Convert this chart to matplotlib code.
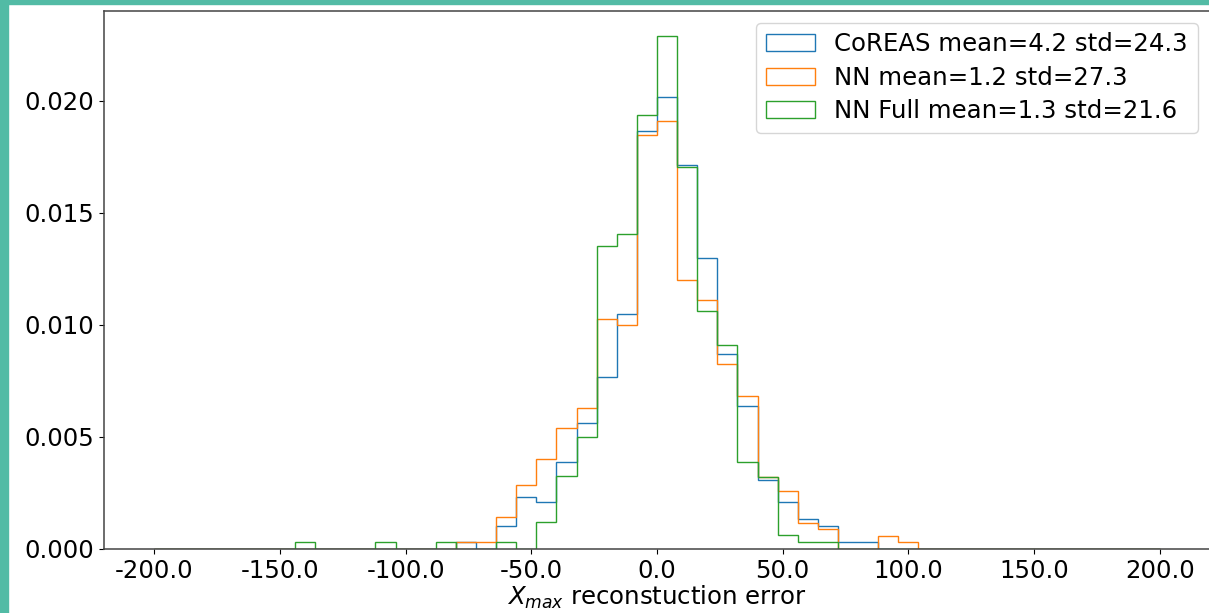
import numpy as np
import matplotlib
matplotlib.use("Agg")
import matplotlib.pyplot as plt
from matplotlib.patches import Rectangle
from matplotlib.ticker import FormatStrFormatter

# bin edges every 8 units, from -200 to 200
edges = np.arange(-200, 201, 8)
left_edges = edges[:-1]

# density per bin: {left edge: value}
coreas = {-80: 0.0003, -64: 0.00104, -56: 0.00232, -48: 0.00209, -40: 0.00386,
          -32: 0.00563, -24: 0.00766, -16: 0.01047, -8: 0.01863, 0: 0.02018,
          8: 0.01714, 16: 0.0130, 24: 0.0087, 32: 0.0064, 40: 0.0031,
          48: 0.00208, 56: 0.00134, 64: 0.00102, 72: 0.0003, 80: 0.0003}
nn = {-80: 0.0003, -72: 0.0003, -64: 0.00144, -56: 0.00286, -48: 0.00402,
      -40: 0.0054, -32: 0.00628, -24: 0.01026, -16: 0.00998, -8: 0.01849,
      0: 0.01908, 8: 0.01198, 16: 0.01109, 24: 0.00827, 32: 0.00683,
      40: 0.00322, 48: 0.0026, 56: 0.00116, 64: 0.00089, 88: 0.0006, 96: 0.0003}
nn_full = {-144: 0.0003, -112: 0.0003, -88: 0.0003, -64: 0.0003, -48: 0.0012,
           -40: 0.00324, -32: 0.0050, -24: 0.01351, -16: 0.01406, -8: 0.01935,
           0: 0.02288, 8: 0.01702, 16: 0.0106, 24: 0.0091, 32: 0.00388,
           40: 0.0032, 48: 0.00061, 56: 0.0003, 64: 0.0003}

labels = ["CoREAS mean=4.2 std=24.3",
          "NN mean=1.2 std=27.3",
          "NN Full mean=1.3 std=21.6"]

fs = 17.6

fig = plt.figure(figsize=(12.09, 6.13), dpi=100)
ax = fig.add_axes([104 / 1209, 1 - 549 / 613, 1106 / 1209, 538.5 / 613])

for series, lab in zip([coreas, nn, nn_full], labels):
    w = [series.get(int(e), 0.0) for e in left_edges]
    ax.hist(left_edges + 4, bins=edges, weights=w, histtype='step', label=lab)

ax.set_xticks(np.arange(-200, 201, 50))
ax.set_yticks(np.arange(0, 0.0201, 0.005))
ax.xaxis.set_major_formatter(FormatStrFormatter('%.1f'))
ax.yaxis.set_major_formatter(FormatStrFormatter('%.3f'))
ax.tick_params(labelsize=fs)
for sp in ax.spines.values():
    sp.set_linewidth(1.1)
    sp.set_color('#444444')
ax.set_xlabel(r'$X_{max}$ reconstuction error', fontsize=fs, labelpad=1)
ax.legend(loc='upper right', fontsize=fs, labelspacing=0.38)

# teal slide border
teal = '#52bba5'
fig.patches.append(Rectangle((0, 0), 8 / 1209, 1, transform=fig.transFigure,
                             color=teal, zorder=10))
fig.patches.append(Rectangle((0, 1 - 3.5 / 613), 1, 3.5 / 613, transform=fig.transFigure,
                             color=teal, zorder=10))

fig.savefig("out.png", dpi=100)
